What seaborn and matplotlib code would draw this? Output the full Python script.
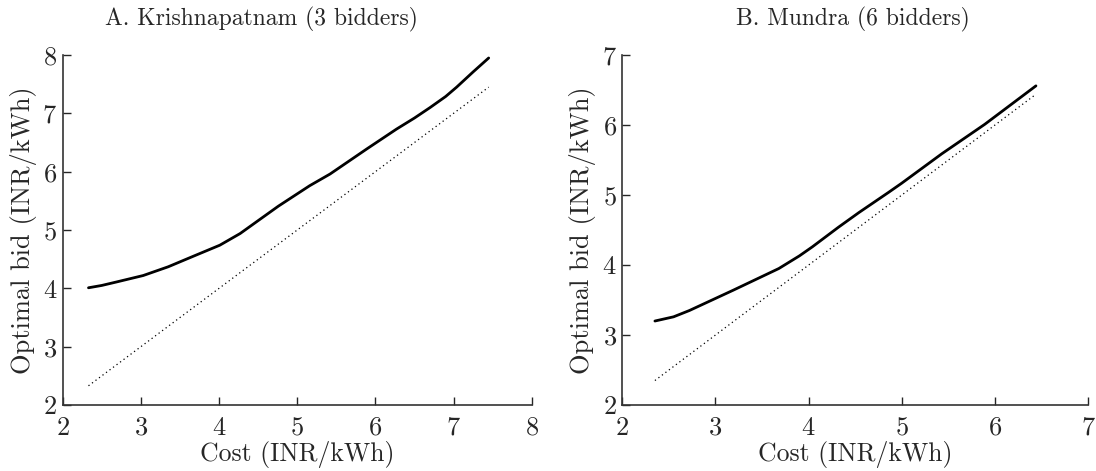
import pandas as pd
import seaborn as sns
import numpy as np
import matplotlib.pyplot as plt

# panel A - Krishnapatnam
cost_a = [2.33, 2.50, 2.69, 3.03, 3.35, 3.67, 4.01, 4.27, 4.52, 4.76, 5.16, 5.42,
          5.89, 6.27, 6.50, 6.70, 6.90, 7.04, 7.25, 7.45]
bid_a = [4.01, 4.05, 4.11, 4.22, 4.37, 4.55, 4.74, 4.94, 5.18, 5.41, 5.76, 5.96,
         6.39, 6.73, 6.92, 7.10, 7.29, 7.45, 7.71, 7.95]

# panel B - Mundra
cost_b = [2.35, 2.55, 2.72, 3.19, 3.68, 3.90, 4.04, 4.32, 4.54, 4.86, 5.00, 5.43,
          5.89, 6.44]
bid_b = [3.20, 3.26, 3.35, 3.64, 3.95, 4.13, 4.26, 4.54, 4.75, 5.04, 5.17, 5.59,
         6.01, 6.56]

titles = ['A. Krishnapatnam (3 bidders)', 'B. Mundra (6 bidders)']
title_x = [0.423, 0.496]
xlims = [(2, 8), (2, 7)]
ylims = [(2, 8), (2, 7)]

sns.set_theme(style='ticks')
plt.rcParams['font.family'] = ['cmr10', 'DejaVu Serif']
plt.rcParams['axes.formatter.use_mathtext'] = True
plt.rcParams['xtick.direction'] = 'in'
plt.rcParams['ytick.direction'] = 'in'

fig = plt.figure(figsize=(10.96, 4.71), dpi=100)
ax1 = fig.add_axes([0.0572, 0.1401, 0.4279, 0.743])
ax2 = fig.add_axes([0.5678, 0.1401, 0.4250, 0.743])

data = [(cost_a, bid_a), (cost_b, bid_b)]
for i, ax in enumerate([ax1, ax2]):
    c, b = data[i]
    xl, yl = xlims[i], ylims[i]
    df = pd.DataFrame({'cost': c, 'bid': b})
    sns.lineplot(data=df, x='cost', y='bid', ax=ax, color='black', linewidth=2)
    diag = pd.DataFrame({'cost': [c[0], c[-1]], 'bid': [c[0], c[-1]]})
    sns.lineplot(data=diag, x='cost', y='bid', ax=ax, color='black',
                 linewidth=0.9, linestyle=(0, (1, 2.5)))
    ax.set_xlim(*xl)
    ax.set_ylim(*yl)
    ax.set_xticks(np.arange(xl[0], xl[1] + 1))
    ax.set_yticks(np.arange(yl[0], yl[1] + 1))
    ax.set_title(titles[i], fontsize=17, pad=21, x=title_x[i])
    ax.set_xlabel('Cost (INR/kWh)', fontsize=18.5, labelpad=1)
    ax.set_ylabel('Optimal bid (INR/kWh)', fontsize=19, labelpad=4)
    ax.tick_params(labelsize=19, length=6, width=1)
    ax.tick_params(axis='x', pad=8)
    ax.tick_params(axis='y', pad=4)
    for s in ['top', 'right']:
        ax.spines[s].set_visible(False)
    for s in ['left', 'bottom']:
        ax.spines[s].set_linewidth(1.2)
        ax.spines[s].set_color('#333333')

plt.savefig('out.png', dpi=100)
